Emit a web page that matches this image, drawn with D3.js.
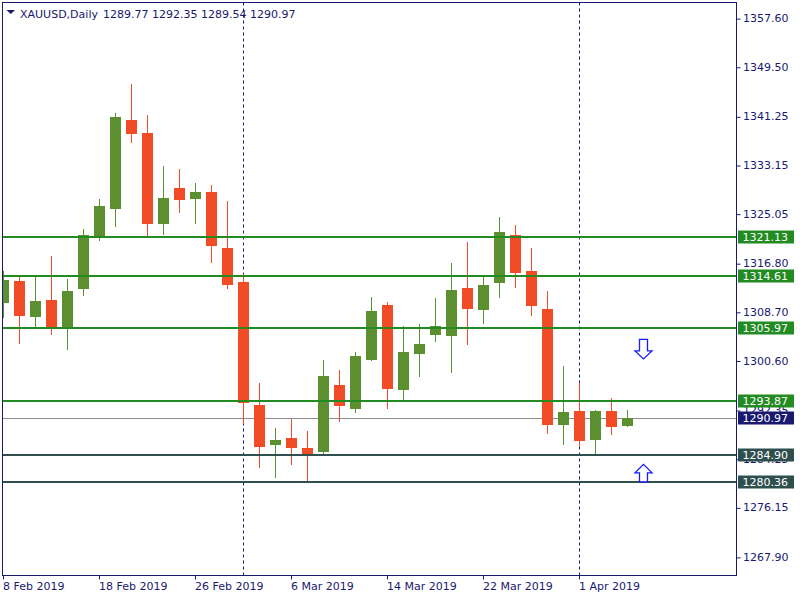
<!DOCTYPE html>
<html><head><meta charset="utf-8">
<script src="https://cdn.jsdelivr.net/npm/d3@7"></script>
<style>
html,body{margin:0;padding:0;background:#fff;}
svg{display:block;font-family:"DejaVu Sans",sans-serif;}
</style></head>
<body>
<svg id="c" width="800" height="600"></svg>
<script>
// ---- data ----
const dates = ["2019-02-08","2019-02-11","2019-02-12","2019-02-13","2019-02-14","2019-02-15",
"2019-02-18","2019-02-19","2019-02-20","2019-02-21","2019-02-22","2019-02-25",
"2019-02-26","2019-02-27","2019-02-28","2019-03-01","2019-03-04","2019-03-05",
"2019-03-06","2019-03-07","2019-03-08","2019-03-11","2019-03-12","2019-03-13",
"2019-03-14","2019-03-15","2019-03-18","2019-03-19","2019-03-20","2019-03-21",
"2019-03-22","2019-03-25","2019-03-26","2019-03-27","2019-03-28","2019-03-29",
"2019-04-01","2019-04-02","2019-04-03","2019-04-04"];
const open  = [1310.10,1313.88,1307.77,1310.72,1306.18,1312.43,1321.25,1325.75,1340.68,1338.51,
               1323.25,1329.36,1327.41,1328.69,1319.37,1313.72,1293.25,1286.59,1287.72,1286.09,
               1285.42,1296.58,1292.58,1300.74,1309.89,1295.74,1301.73,1304.90,1304.61,1312.72,
               1308.94,1313.43,1321.54,1315.55,1309.22,1289.80,1292.25,1287.30,1292.25,1289.77];
const high  = [1315.55,1314.88,1314.60,1318.04,1314.21,1322.54,1327.53,1341.84,1346.67,1341.51,
               1333.02,1332.52,1330.19,1329.86,1327.20,1315.05,1296.91,1289.42,1290.80,1288.92,
               1300.74,1299.07,1302.07,1311.22,1310.39,1306.39,1306.73,1311.05,1316.88,1320.37,
               1314.88,1324.53,1323.20,1319.37,1312.22,1299.74,1296.91,1292.35,1294.41,1292.35];
const low   = [1307.67,1303.39,1306.18,1304.90,1302.28,1311.27,1320.42,1322.75,1336.73,1320.92,
               1321.42,1325.08,1323.25,1316.76,1312.43,1290.03,1282.65,1280.98,1283.26,1280.60,
               1284.97,1290.30,1291.80,1300.57,1292.58,1293.80,1297.90,1303.73,1298.45,1303.12,
               1306.61,1310.94,1312.60,1307.94,1288.30,1286.47,1286.31,1284.97,1288.14,1289.54];
const close = [1314.05,1307.94,1310.55,1305.78,1312.22,1321.54,1326.36,1341.17,1338.23,1323.25,
               1327.69,1327.25,1328.69,1319.59,1313.10,1293.53,1286.26,1287.42,1286.05,1285.09,
               1298.07,1293.08,1301.40,1308.89,1295.91,1302.07,1303.40,1306.39,1312.38,1309.11,
               1313.22,1322.04,1315.10,1309.60,1289.80,1292.08,1287.14,1292.25,1289.47,1290.97];
const xTickIdx = [0,6,12,18,24,30,36];
const xTickLabels = ["8 Feb 2019","18 Feb 2019","26 Feb 2019","6 Mar 2019","14 Mar 2019","22 Mar 2019","1 Apr 2019"];
const yTicks = [1357.60,1349.50,1341.25,1333.15,1325.05,1316.80,1308.70,1300.60,1292.35,1284.25,1276.15,1267.90];
const monthSepIdx = [15,36];
const levelPrices = [1321.13,1314.61,1305.97,1293.87,1284.90,1280.36];
const levelKinds  = ["res","res","res","res","sup","sup"];
const bidPrice = 1290.97;
const arrowIdx = [40,40];
const arrowPrice = [1304.1,1280.4];
const arrowDir = ["down","up"];
const symbol = "XAUUSD,Daily";

// ---- styles ----
const C = {fg:"#191970", up:"#5b8f2f", dn:"#f24c26", res:"#228b22", sup:"#2f4f4f", bid:"#8c8c8c", bidBox:"#191970"};
const L = {left:2.5, top:2.5, right:736.5, bottom:575.5};

const svg = d3.select("#c");
const x = d3.scaleLinear().domain([0,39]).range([3.5, 3.5+16*39]);
const y = d3.scaleLinear().domain([1264.8,1360.2]).range([575.5,2.5]);

svg.append("defs").append("clipPath").attr("id","plot").append("rect")
  .attr("x",L.left).attr("y",L.top).attr("width",L.right-L.left).attr("height",L.bottom-L.top);
const plot = svg.append("g").attr("clip-path","url(#plot)");

// month separators
plot.selectAll(".sep").data(monthSepIdx).join("line")
  .attr("x1",d=>Math.floor(x(d))+0.5).attr("x2",d=>Math.floor(x(d))+0.5)
  .attr("y1",L.top).attr("y2",L.bottom)
  .attr("stroke",C.fg).attr("stroke-width",1).attr("stroke-dasharray","3,3");

// bid line (behind candles)
plot.append("line").attr("x1",L.left).attr("x2",L.right)
  .attr("y1",Math.round(y(bidPrice))+0.5).attr("y2",Math.round(y(bidPrice))+0.5)
  .attr("stroke",C.bid).attr("stroke-width",1);

// candles
const candles = dates.map((d,i)=>({i,o:open[i],h:high[i],l:low[i],c:close[i]}));
const cg = plot.selectAll(".candle").data(candles).join("g");
cg.append("line")
  .attr("x1",d=>Math.floor(x(d.i))+0.5).attr("x2",d=>Math.floor(x(d.i))+0.5)
  .attr("y1",d=>Math.round(y(d.h))).attr("y2",d=>Math.round(y(d.l)))
  .attr("stroke",d=>d.c>=d.o?C.up:C.dn).attr("stroke-width",1);
cg.append("rect")
  .attr("x",d=>Math.floor(x(d.i))-5).attr("width",11)
  .attr("y",d=>Math.round(y(Math.max(d.o,d.c))))
  .attr("height",d=>Math.max(1,Math.round(y(Math.min(d.o,d.c)))-Math.round(y(Math.max(d.o,d.c)))))
  .attr("fill",d=>d.c>=d.o?C.up:C.dn);

// horizontal levels
plot.selectAll(".lvl").data(levelPrices).join("line")
  .attr("x1",L.left).attr("x2",L.right)
  .attr("y1",d=>Math.round(y(d))).attr("y2",d=>Math.round(y(d)))
  .attr("stroke",(d,i)=>levelKinds[i]==="res"?C.res:C.sup).attr("stroke-width",2);

// arrows
arrowIdx.forEach((ai,k)=>{
  const cx = Math.floor(x(ai))+0.5;
  const py = y(arrowPrice[k]);
  let pts;
  if(arrowDir[k]==="down"){
    const t=py;
    pts=[[cx-4,t],[cx+4,t],[cx+4,t+11.5],[cx+8.5,t+11.5],[cx,t+19.5],[cx-8.5,t+11.5],[cx-4,t+11.5]];
  } else {
    const b=py;
    pts=[[cx-4,b],[cx+4,b],[cx+4,b-9],[cx+8.5,b-9],[cx,b-17.5],[cx-8.5,b-9],[cx-4,b-9]];
  }
  plot.append("polygon").attr("points",pts.map(p=>p.join(",")).join(" "))
    .attr("fill","#fff").attr("stroke","#1a1aff").attr("stroke-width",1.3);
});

// frame
svg.append("rect").attr("x",L.left).attr("y",L.top).attr("width",L.right-L.left).attr("height",L.bottom-L.top)
  .attr("fill","none").attr("stroke",C.fg).attr("stroke-width",1);

// right axis
const ya = svg.append("g").attr("transform",`translate(${L.right},0)`)
  .call(d3.axisRight(y).tickValues(yTicks).tickSize(4).tickPadding(3).tickFormat(d3.format(".2f")));
ya.select(".domain").remove();
ya.selectAll(".tick line").attr("stroke",C.fg).attr("transform","translate(0,0.5)");
ya.selectAll(".tick text").attr("fill",C.fg).attr("font-size",11).attr("font-family","DejaVu Sans").attr("x",6.5);

// bottom axis
const xa = svg.append("g").attr("transform",`translate(0,${L.bottom})`)
  .call(d3.axisBottom(x).tickValues(xTickIdx).tickSize(4).tickFormat((d,i)=>xTickLabels[i]));
xa.select(".domain").remove();
xa.selectAll(".tick").attr("transform",d=>`translate(${Math.floor(x(d))+0.5},0)`);
xa.selectAll(".tick line").attr("stroke",C.fg);
xa.selectAll(".tick text").attr("fill",C.fg).attr("font-size",11).attr("font-family","DejaVu Sans")
  .attr("text-anchor","start").attr("x",-0.5).attr("y",7);

// level labels on axis
const boxes = levelPrices.map((p,i)=>({p,col:levelKinds[i]==="res"?C.res:C.sup})).concat([{p:bidPrice,col:C.bidBox}]);
const bg = svg.selectAll(".lbl").data(boxes).join("g");
bg.append("rect").attr("x",738).attr("width",56).attr("y",d=>Math.round(y(d.p))-6.5).attr("height",13)
  .attr("fill",d=>d.col);
bg.append("text").attr("x",742.5).attr("y",d=>Math.round(y(d.p))).attr("dy","0.36em")
  .attr("fill","#fff").attr("font-size",11).text(d=>d.p.toFixed(2));

// title
svg.append("polygon").attr("points","6.5,10 15,10 10.75,14").attr("fill",C.fg);
svg.append("text").attr("x",20).attr("y",17.5).attr("fill",C.fg).attr("font-size",11).text(symbol);
const lastI = close.length-1;
svg.append("text").attr("x",103).attr("y",17.5).attr("fill",C.fg).attr("font-size",11)
  .text([open[lastI],high[lastI],low[lastI],close[lastI]].map(v=>v.toFixed(2)).join(" "));
</script>
</body></html>
